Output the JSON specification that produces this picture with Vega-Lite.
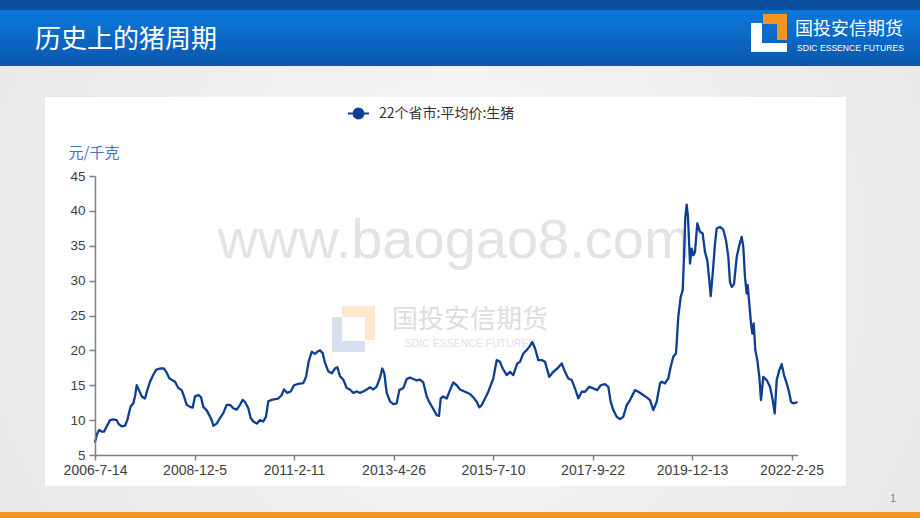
{
  "$schema": "https://vega.github.io/schema/vega-lite/v6.json",
  "width": 702.7,
  "height": 279,
  "autosize": {"type": "none"},
  "padding": {"left": 95, "top": 176, "right": 122.3, "bottom": 63},
  "background": "#ececec",
  "config": {"view": {"stroke": null}, "font": "Liberation Sans"},
  "layer": [
    {
      "data": {"values": [{}]},
      "mark": {"type": "rect", "fill": {"gradient": "radial", "x1": 0.5, "y1": 0.5, "r1": 0, "x2": 0.5, "y2": 0.5, "r2": 0.75, "stops": [{"offset": 0, "color": "#f8f8f8"}, {"offset": 1, "color": "#e3e3e3"}]}},
      "encoding": {"x": {"datum": -95}, "x2": {"datum": 825}, "y": {"datum": 71}, "y2": {"datum": -5}}
    },
    {
      "data": {"values": [{}]},
      "mark": {"type": "rect", "fill": {"gradient": "linear", "x1": 0, "y1": 0, "x2": 0, "y2": 1, "stops": [{"offset": 0, "color": "#0a4f9e"}, {"offset": 0.15, "color": "#0a4f9e"}, {"offset": 0.16, "color": "#0a78dc"}, {"offset": 1, "color": "#0b58ad"}]}},
      "encoding": {"x": {"datum": -95}, "x2": {"datum": 825}, "y": {"datum": 70.23}, "y2": {"datum": 60.77}}
    },
    {
      "data": {"values": [{}]},
      "mark": {"type": "rect", "fill": "#ffffff"},
      "encoding": {"x": {"datum": -50}, "x2": {"datum": 751}, "y": {"datum": 56.33}, "y2": {"datum": 0.556}}
    },
    {
      "data": {"values": [{}]},
      "mark": {"type": "rect", "fill": "#f39322"},
      "encoding": {"x": {"datum": -95}, "x2": {"datum": 825}, "y": {"datum": -3.17}, "y2": {"datum": -5}}
    },
    {
      "data": {"values": [{}]},
      "mark": {"type": "text", "text": "历史上的猪周期", "font": "Noto Sans CJK SC", "fontSize": 26, "fill": "#ffffff", "align": "left", "baseline": "middle"},
      "encoding": {"x": {"datum": -60}, "y": {"datum": 64.5}}
    },
    {
      "data": {"values": [{}]},
      "mark": {"type": "rect", "fill": "#ffffff"},
      "encoding": {"x": {"datum": 656}, "x2": {"datum": 667}, "y": {"datum": 66.94}, "y2": {"datum": 62.78}}
    },
    {
      "data": {"values": [{}]},
      "mark": {"type": "rect", "fill": "#ffffff"},
      "encoding": {"x": {"datum": 656}, "x2": {"datum": 692}, "y": {"datum": 64.07}, "y2": {"datum": 62.78}}
    },
    {
      "data": {"values": [{}]},
      "mark": {"type": "rect", "fill": "#f5951f"},
      "encoding": {"x": {"datum": 668}, "x2": {"datum": 692}, "y": {"datum": 68.23}, "y2": {"datum": 66.79}}
    },
    {
      "data": {"values": [{}]},
      "mark": {"type": "rect", "fill": "#f5951f"},
      "encoding": {"x": {"datum": 682}, "x2": {"datum": 692}, "y": {"datum": 68.23}, "y2": {"datum": 64.5}}
    },
    {
      "data": {"values": [{}]},
      "mark": {"type": "text", "text": "国投安信期货", "font": "Noto Sans CJK SC", "fontSize": 18, "fill": "#ffffff", "align": "left", "baseline": "middle"},
      "encoding": {"x": {"datum": 700}, "y": {"datum": 65.93}}
    },
    {
      "data": {"values": [{}]},
      "mark": {"type": "text", "text": "SDIC ESSENCE FUTURES", "font": "Liberation Sans", "fontSize": 8.6, "fill": "#ffffff", "align": "left", "baseline": "middle"},
      "encoding": {"x": {"datum": 702}, "y": {"datum": 63.35}}
    },
    {
      "data": {"values": [{}]},
      "mark": {"type": "text", "text": "1", "fontSize": 10, "fill": "#808080", "align": "center", "baseline": "middle"},
      "encoding": {"x": {"datum": 798}, "y": {"datum": -1.31}}
    },
    {
      "data": {"values": [{}]},
      "mark": {"type": "rect", "fill": "#d8e0ef"},
      "encoding": {"x": {"datum": 237}, "x2": {"datum": 247}, "y": {"datum": 24.78}, "y2": {"datum": 19.77}}
    },
    {
      "data": {"values": [{}]},
      "mark": {"type": "rect", "fill": "#d8e0ef"},
      "encoding": {"x": {"datum": 237}, "x2": {"datum": 270}, "y": {"datum": 21.34}, "y2": {"datum": 19.77}}
    },
    {
      "data": {"values": [{}]},
      "mark": {"type": "rect", "fill": "#fde7ca"},
      "encoding": {"x": {"datum": 247}, "x2": {"datum": 280}, "y": {"datum": 26.36}, "y2": {"datum": 24.78}}
    },
    {
      "data": {"values": [{}]},
      "mark": {"type": "rect", "fill": "#fde7ca"},
      "encoding": {"x": {"datum": 270}, "x2": {"datum": 280}, "y": {"datum": 26.36}, "y2": {"datum": 21.49}}
    },
    {
      "data": {"values": [{}]},
      "mark": {"type": "text", "text": "www.baogao8.com", "font": "Liberation Sans", "fontSize": 56, "fill": "#e3e3e3", "align": "center", "baseline": "alphabetic"},
      "encoding": {"x": {"datum": 359}, "y": {"datum": 33.24}}
    },
    {
      "data": {"values": [{}]},
      "mark": {"type": "text", "text": "国投安信期货", "font": "Noto Sans CJK SC", "fontSize": 26, "fill": "#dddddd", "align": "left", "baseline": "middle"},
      "encoding": {"x": {"datum": 297}, "y": {"datum": 24.35}}
    },
    {
      "data": {"values": [{}]},
      "mark": {"type": "text", "text": "SDIC ESSENCE FUTURES", "font": "Liberation Sans", "fontSize": 10.5, "fill": "#e0e0e0", "align": "center", "baseline": "middle"},
      "encoding": {"x": {"datum": 375}, "y": {"datum": 20.91}}
    },
    {
      "data": {"values": [
        {"i": 0, "v": 6.9}, {"i": 2.3, "v": 8.1}, {"i": 4.3, "v": 8.6}, {"i": 6.7, "v": 8.35}, {"i": 9, "v": 8.35},
        {"i": 11.7, "v": 9.1}, {"i": 15, "v": 10.0}, {"i": 18.3, "v": 10.1}, {"i": 21.7, "v": 10.0}, {"i": 23.3, "v": 9.5},
        {"i": 26.7, "v": 9.1}, {"i": 30, "v": 9.2}, {"i": 32.3, "v": 10.0}, {"i": 34.3, "v": 11.2}, {"i": 35.7, "v": 12.0},
        {"i": 38.3, "v": 12.4}, {"i": 40, "v": 13.4}, {"i": 41.7, "v": 15.0}, {"i": 44, "v": 14.3}, {"i": 46.7, "v": 13.4},
        {"i": 50, "v": 13.1}, {"i": 52.3, "v": 14.3}, {"i": 55, "v": 15.5}, {"i": 58.3, "v": 16.5}, {"i": 61, "v": 17.2},
        {"i": 65, "v": 17.4}, {"i": 69, "v": 17.4}, {"i": 71.7, "v": 16.8}, {"i": 74.3, "v": 16.0}, {"i": 76.7, "v": 15.8},
        {"i": 80, "v": 15.5}, {"i": 83.3, "v": 14.6}, {"i": 86.7, "v": 14.3}, {"i": 89, "v": 13.4}, {"i": 91.7, "v": 12.2},
        {"i": 95, "v": 11.9}, {"i": 97.7, "v": 11.8}, {"i": 100, "v": 13.4}, {"i": 103.3, "v": 13.6}, {"i": 106, "v": 13.3},
        {"i": 108.3, "v": 11.9}, {"i": 111.7, "v": 11.4}, {"i": 115, "v": 10.5}, {"i": 116.7, "v": 10.0}, {"i": 118.3, "v": 9.2},
        {"i": 121.7, "v": 9.5}, {"i": 125, "v": 10.3}, {"i": 128.3, "v": 11.0}, {"i": 131.7, "v": 12.2}, {"i": 135, "v": 12.2},
        {"i": 138.3, "v": 11.7}, {"i": 141.7, "v": 11.5}, {"i": 145, "v": 12.2}, {"i": 147.7, "v": 12.9}, {"i": 150, "v": 12.6},
        {"i": 153.3, "v": 11.7}, {"i": 155.7, "v": 10.3}, {"i": 158.3, "v": 9.8}, {"i": 161.7, "v": 9.5}, {"i": 165, "v": 10.0},
        {"i": 168.3, "v": 9.8}, {"i": 171, "v": 10.5}, {"i": 173.3, "v": 12.7}, {"i": 176.7, "v": 12.9}, {"i": 180, "v": 13.0},
        {"i": 183.3, "v": 13.1}, {"i": 186.7, "v": 13.6}, {"i": 189, "v": 14.4}, {"i": 192.3, "v": 13.9}, {"i": 195.7, "v": 14.1},
        {"i": 199, "v": 15.0}, {"i": 203.3, "v": 15.2}, {"i": 208.3, "v": 15.3}, {"i": 211, "v": 16.2}, {"i": 213.7, "v": 18.4},
        {"i": 216.7, "v": 19.8}, {"i": 220, "v": 19.5}, {"i": 222.3, "v": 19.8}, {"i": 225, "v": 20.0}, {"i": 227.7, "v": 19.6},
        {"i": 230, "v": 18.2}, {"i": 233.3, "v": 17.0}, {"i": 236.7, "v": 16.7}, {"i": 240, "v": 17.4}, {"i": 242.3, "v": 17.6},
        {"i": 245, "v": 16.3}, {"i": 248.3, "v": 15.8}, {"i": 251.7, "v": 14.6}, {"i": 255, "v": 14.4}, {"i": 258.3, "v": 13.9},
        {"i": 261.7, "v": 14.1}, {"i": 265, "v": 13.9}, {"i": 268.3, "v": 14.1}, {"i": 271.7, "v": 14.4}, {"i": 275, "v": 14.7},
        {"i": 278.3, "v": 14.4}, {"i": 281.7, "v": 14.8}, {"i": 285, "v": 16.1}, {"i": 287.3, "v": 17.4}, {"i": 289.3, "v": 16.7},
        {"i": 291.7, "v": 13.9}, {"i": 295, "v": 12.7}, {"i": 298.3, "v": 12.3}, {"i": 301.7, "v": 12.4}, {"i": 304.3, "v": 14.3},
        {"i": 308.3, "v": 14.6}, {"i": 311.7, "v": 15.9}, {"i": 315, "v": 16.1}, {"i": 318.3, "v": 15.9}, {"i": 321.7, "v": 15.7},
        {"i": 325, "v": 15.8}, {"i": 328.3, "v": 15.4}, {"i": 331.7, "v": 13.4}, {"i": 335, "v": 12.4}, {"i": 338.3, "v": 11.6},
        {"i": 341.7, "v": 10.7}, {"i": 344, "v": 10.6}, {"i": 345.7, "v": 13.1}, {"i": 348.3, "v": 13.4}, {"i": 351.7, "v": 13.1},
        {"i": 355, "v": 14.3}, {"i": 358.3, "v": 15.4}, {"i": 361.7, "v": 15.0}, {"i": 365, "v": 14.4}, {"i": 370, "v": 14.07},
        {"i": 375, "v": 13.74}, {"i": 378.3, "v": 13.26}, {"i": 381.7, "v": 12.64}, {"i": 384.3, "v": 11.83}, {"i": 386.7, "v": 12.16},
        {"i": 390, "v": 13.11}, {"i": 393.3, "v": 14.07}, {"i": 398.3, "v": 15.98}, {"i": 401.7, "v": 18.6}, {"i": 405, "v": 18.36},
        {"i": 407.7, "v": 17.4}, {"i": 411.7, "v": 16.46}, {"i": 415, "v": 16.93}, {"i": 418.3, "v": 16.46}, {"i": 422.3, "v": 18.13},
        {"i": 425, "v": 18.36}, {"i": 428.3, "v": 19.55}, {"i": 431.7, "v": 20.04}, {"i": 434.3, "v": 20.5}, {"i": 437.3, "v": 21.2},
        {"i": 440, "v": 20.3}, {"i": 443.3, "v": 18.6}, {"i": 446.7, "v": 18.6}, {"i": 450, "v": 18.36}, {"i": 454.3, "v": 16.2},
        {"i": 458.3, "v": 16.93}, {"i": 462.3, "v": 17.4}, {"i": 466.7, "v": 18.13}, {"i": 470, "v": 16.93}, {"i": 473.3, "v": 15.98},
        {"i": 476.7, "v": 15.74}, {"i": 480, "v": 14.55}, {"i": 483.3, "v": 13.11}, {"i": 486.7, "v": 14.07}, {"i": 490, "v": 14.07},
        {"i": 494.3, "v": 14.78}, {"i": 498.3, "v": 14.55}, {"i": 502.3, "v": 14.3}, {"i": 505.7, "v": 15.0}, {"i": 510, "v": 15.17},
        {"i": 513.3, "v": 14.78}, {"i": 515.7, "v": 12.64}, {"i": 518.3, "v": 11.44}, {"i": 521.7, "v": 10.48}, {"i": 525, "v": 10.15},
        {"i": 528.3, "v": 10.48}, {"i": 531.7, "v": 12.16}, {"i": 535, "v": 12.88}, {"i": 540, "v": 14.3}, {"i": 543.3, "v": 14.07},
        {"i": 546.7, "v": 13.74}, {"i": 551.7, "v": 13.26}, {"i": 555, "v": 12.88}, {"i": 558.3, "v": 11.44}, {"i": 561.7, "v": 12.64},
        {"i": 565, "v": 15.26}, {"i": 566.7, "v": 15.5}, {"i": 570, "v": 15.27}, {"i": 573.3, "v": 15.98}, {"i": 575.7, "v": 17.65},
        {"i": 578.3, "v": 19.08}, {"i": 581, "v": 19.56}, {"i": 583.3, "v": 24.8}, {"i": 585.7, "v": 27.67}, {"i": 587.7, "v": 28.63},
        {"i": 589, "v": 33.4}, {"i": 590.3, "v": 39.1}, {"i": 591.7, "v": 40.9}, {"i": 593, "v": 39.1}, {"i": 595, "v": 32.45},
        {"i": 596.7, "v": 34.6}, {"i": 598.3, "v": 33.64}, {"i": 600, "v": 34.1}, {"i": 602.3, "v": 38.2}, {"i": 605, "v": 37.0},
        {"i": 607.7, "v": 36.75}, {"i": 610, "v": 34.1}, {"i": 612.3, "v": 32.9}, {"i": 614.3, "v": 30.06}, {"i": 615.7, "v": 27.77},
        {"i": 617.7, "v": 31.0}, {"i": 620, "v": 35.3}, {"i": 621.7, "v": 37.47}, {"i": 625, "v": 37.7}, {"i": 628.3, "v": 37.3},
        {"i": 631, "v": 35.8}, {"i": 633.3, "v": 33.4}, {"i": 635, "v": 29.8}, {"i": 636.7, "v": 29.1}, {"i": 639, "v": 29.5},
        {"i": 641.7, "v": 33.4}, {"i": 644.3, "v": 35.07}, {"i": 646.7, "v": 36.27}, {"i": 648.3, "v": 34.83}, {"i": 650, "v": 30.5},
        {"i": 651.7, "v": 28.15}, {"i": 652.7, "v": 29.34}, {"i": 654.3, "v": 26.7}, {"i": 656, "v": 23.86}, {"i": 657.3, "v": 22.4},
        {"i": 658.7, "v": 23.86}, {"i": 660.3, "v": 20.04}, {"i": 662.3, "v": 18.6}, {"i": 664.3, "v": 16.21}, {"i": 666, "v": 12.88},
        {"i": 668.3, "v": 16.21}, {"i": 671.7, "v": 15.74}, {"i": 675, "v": 14.78}, {"i": 677.7, "v": 12.88}, {"i": 679.7, "v": 10.97},
        {"i": 681.7, "v": 15.74}, {"i": 684.3, "v": 17.17}, {"i": 686.7, "v": 18.03}, {"i": 689, "v": 16.46}, {"i": 691.7, "v": 15.27},
        {"i": 694, "v": 14.07}, {"i": 696, "v": 12.64}, {"i": 698.3, "v": 12.4}, {"i": 701.7, "v": 12.55}
      ]},
      "mark": {"type": "line", "strokeWidth": 2.3, "strokeJoin": "round", "strokeCap": "round"},
      "encoding": {
        "x": {
          "field": "i", "type": "quantitative",
          "scale": {"domain": [0, 702.7], "nice": false, "zero": false},
          "axis": {
            "title": null, "grid": false, "zindex": 2, "tickCount": 20,
            "values": [0, 99.5, 199, 298.5, 398, 497.5, 597, 696.5],
            "labelExpr": "datum.value < 50 ? '2006-7-14' : datum.value < 150 ? '2008-12-5' : datum.value < 250 ? '2011-2-11' : datum.value < 350 ? '2013-4-26' : datum.value < 450 ? '2015-7-10' : datum.value < 550 ? '2017-9-22' : datum.value < 650 ? '2019-12-13' : '2022-2-25'",
            "labelFlush": false, "labelOverlap": false,
            "domainColor": "#7f7f7f", "domainWidth": 1.5, "tickColor": "#7f7f7f", "tickWidth": 1.5, "tickSize": 5,
            "labelPadding": 3, "labelFont": "Liberation Sans", "labelFontSize": 14, "labelColor": "#404040"
          }
        },
        "y": {
          "field": "v", "type": "quantitative",
          "scale": {"domain": [5, 45], "nice": false, "zero": false},
          "axis": {
            "title": "元/千克", "titleAngle": 0, "titleAlign": "left", "titleBaseline": "middle",
            "titleX": -27, "titleY": -24, "titleFont": "Noto Sans CJK SC", "titleFontSize": 15,
            "titleFontWeight": "normal", "titleColor": "#4472c4",
            "grid": false, "zindex": 2, "labelOverlap": false, "labelFlush": false, "tickCount": 12,
            "values": [5, 10, 15, 20, 25, 30, 35, 40, 45],
            "domainColor": "#7f7f7f", "domainWidth": 1.5, "tickColor": "#7f7f7f", "tickWidth": 1.5, "tickSize": 6,
            "labelPadding": 4, "labelFont": "Liberation Sans", "labelFontSize": 13.5, "labelColor": "#404040"
          }
        },
        "color": {
          "datum": "22个省市:平均价:生猪", "type": "nominal",
          "scale": {"range": ["#0c3f93"]},
          "legend": {
            "title": null, "orient": "none", "legendX": 252, "legendY": -74, "zindex": 2, "padding": 0,
            "symbolType": "M-1,0H1M-0.47,0A0.47,0.47,0,1,0,0.47,0A0.47,0.47,0,1,0,-0.47,0Z",
            "symbolSize": 441, "symbolStrokeWidth": 2, "symbolFillColor": "#0c3f93", "symbolStrokeColor": "#0c3f93",
            "labelFont": "Noto Sans CJK SC", "labelFontSize": 14, "labelColor": "#333333", "labelOffset": 9
          }
        }
      }
    }
  ]
}
